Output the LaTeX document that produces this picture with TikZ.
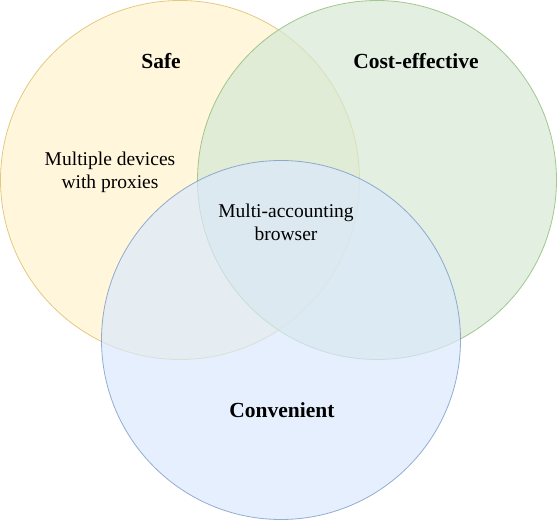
\documentclass[tikz,border=0pt]{standalone}
\usepackage{fontspec}
\setmainfont{Liberation Serif}
\usepackage{xcolor}
\usepackage{tikz}
\usetikzlibrary{positioning}

\definecolor{safeFill}{HTML}{FFF2CC}
\definecolor{safeLine}{HTML}{D6B656}
\definecolor{costFill}{HTML}{D5E8D4}
\definecolor{costLine}{HTML}{82B366}
\definecolor{convFill}{HTML}{DAE8FC}
\definecolor{convLine}{HTML}{6C8EBF}

\begin{document}
\begin{tikzpicture}[x=1pt,y=-1pt]

\tikzset{set/.style={draw=#1Line, fill=#1Fill, fill opacity=0.7, draw opacity=0.7, line width=0.8pt},
head/.style={font=\fontsize{21.5}{24}\selectfont\bfseries, align=center},
body/.style={font=\fontsize{19.5}{23}\selectfont, align=center}}

\useasboundingbox (0,0) rectangle (557,521);

%the three sets
\foreach \n/\x/\y in {safe/180/180, cost/377/180, conv/281/340}
    \draw[set=\n] (\x,\y) circle (179.5);

%set names
\node[head] (safe) at (161,61) {Safe};
\node[head] (cost) at (416,61) {Cost-effective};
\node[head] (conv) at (282,410) {Convenient};

%what sits in the sets
\node[body] (devices) at (110,172) {Multiple devices\\with proxies};
\node[body] (browser) at (286,222) {Multi-accounting\\browser};

\end{tikzpicture}
\end{document}
